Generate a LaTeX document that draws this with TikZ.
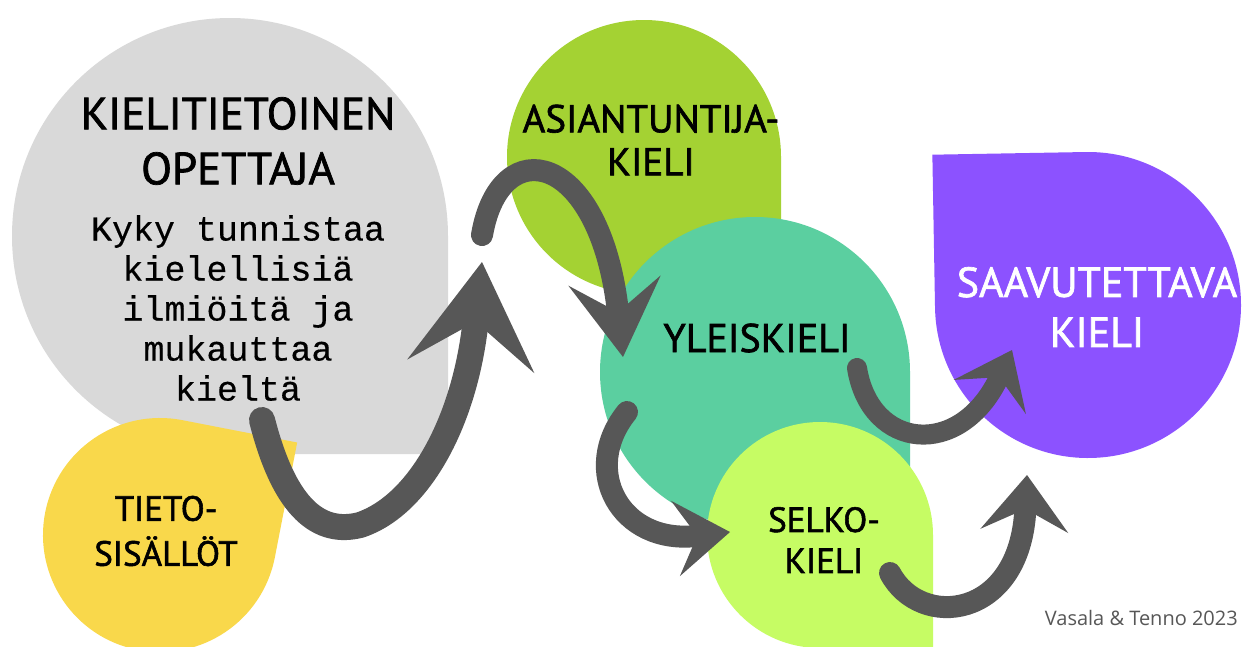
\documentclass[tikz,border=0pt]{standalone}
\usepackage{fontspec}
\setmainfont{PT Sans}
\newfontfamily\headfont{PT Sans}[FakeBold=1.6]
\newfontfamily\typefont{Liberation Mono}[FakeBold=0.4]
\newfontfamily\creditfont{Open Sans}
\usetikzlibrary{arrows.meta, positioning}

\definecolor{dropgray}{HTML}{D9D9D9}
\definecolor{dropyellow}{HTML}{F9D84B}
\definecolor{dropgreen}{HTML}{A4D233}
\definecolor{dropteal}{HTML}{5BCFA0}
\definecolor{droplime}{HTML}{C6FC64}
\definecolor{droppurple}{HTML}{8C52FF}
\definecolor{arrowgray}{HTML}{575757}

\begin{document}
\begin{tikzpicture}[
    x=1pt, y=-1pt,
    every node/.style={inner sep=0pt, align=center},
    head/.style 2 args={font=\headfont\fontsize{#1}{#2}\selectfont},
    swoosh/.style={draw=arrowgray, line width=22pt, line cap=round},
    pics/drop/.style n args={3}{code={
        \fill[#3] (#2+45:#1) arc[start angle=#2+45, end angle=#2+315, radius=#1] -- (#2:1.4142*#1) -- cycle;}}
]
    \useasboundingbox (0,0) rectangle (1242,646);
    \clip (0,0) rectangle (1242,646);
    \fill[white] (0,0) rectangle (1242,646);

    % Drops, back to front
    \pic at (230,236) {drop={218}{45}{dropgray}};
    \pic at (160,535) {drop={117}{-34}{dropyellow}};
    \pic at (644,157) {drop={137}{45}{dropgreen}};
    \pic at (755,372) {drop={155}{45}{dropteal}};
    \pic at (820,535) {drop={113}{45}{droplime}};
    \pic at (1088,305) {drop={153}{224}{droppurple}};

    % Labels
    \node[head={45}{55}] (opettaja) at (238,141) {KIELITIETOINEN\\OPETTAJA};
    \node[font=\typefont\fontsize{35}{40}\selectfont, below=30pt of opettaja] (kyky) {Kyky tunnistaa\\kielellisiä\\ilmiöitä ja\\mukauttaa\\kieltä};
    \node[head={35}{45}] (tieto) at (166,531) {TIETO-\\SISÄLLÖT};
    \node[head={39}{43}] (asiantuntija) at (651,140) {ASIANTUNTIJA-\\KIELI};
    \node[head={40}{46}] (yleis) at (757,338) {YLEISKIELI};
    \node[head={35}{41}] (selko) at (824,540) {SELKO-\\KIELI};
    \node[head={42}{50}, text=white] (saavutettava) at (1097,307) {SAAVUTETTAVA\\KIELI};
    \node[font=\creditfont\fontsize{20}{24}\selectfont, text=arrowgray, anchor=base east] (credit) at (1238,625) {Vasala \& Tenno 2023};

    % Arrow ends
    \coordinate (opettaja-out) at (262,420);
    \coordinate (up-tip) at (482,262);
    \coordinate (up-out) at (482,235);
    \coordinate (yleis-in) at (623,357);
    \coordinate (yleis-down) at (627,412);
    \coordinate (selko-in) at (730,532);
    \coordinate (yleis-out) at (857,368);
    \coordinate (saav-in) at (1012,350);
    \coordinate (selko-out) at (890,573);
    \coordinate (saav-below) at (1027,475);

    % Swooshes
    \draw[swoosh, line width=26pt, -{Stealth[length=105pt, width=128pt, inset=45pt, line width=0pt]}]
        (opettaja-out) .. controls (285,510) and (320,535) .. (360,525) .. controls (420,505) and (465,420) .. (up-tip);
    \draw[swoosh, -{Stealth[length=77pt, width=93pt, inset=32pt, line width=0pt]}]
        (up-out) .. controls (500,130) and (600,150) .. (yleis-in);
    \draw[swoosh, -{Stealth[length=55pt, width=76pt, inset=22pt, line width=0pt]}]
        (yleis-down) .. controls (580,470) and (620,545) .. (selko-in);
    \draw[swoosh, line width=20pt, -{Stealth[length=52pt, width=80pt, inset=22pt, line width=0pt]}]
        (yleis-out) .. controls (870,450) and (960,460) .. (saav-in);
    \draw[swoosh, -{Stealth[length=56pt, width=88pt, inset=22pt, line width=0pt]}]
        (selko-out) .. controls (920,630) and (1020,620) .. (saav-below);
\end{tikzpicture}
\end{document}
